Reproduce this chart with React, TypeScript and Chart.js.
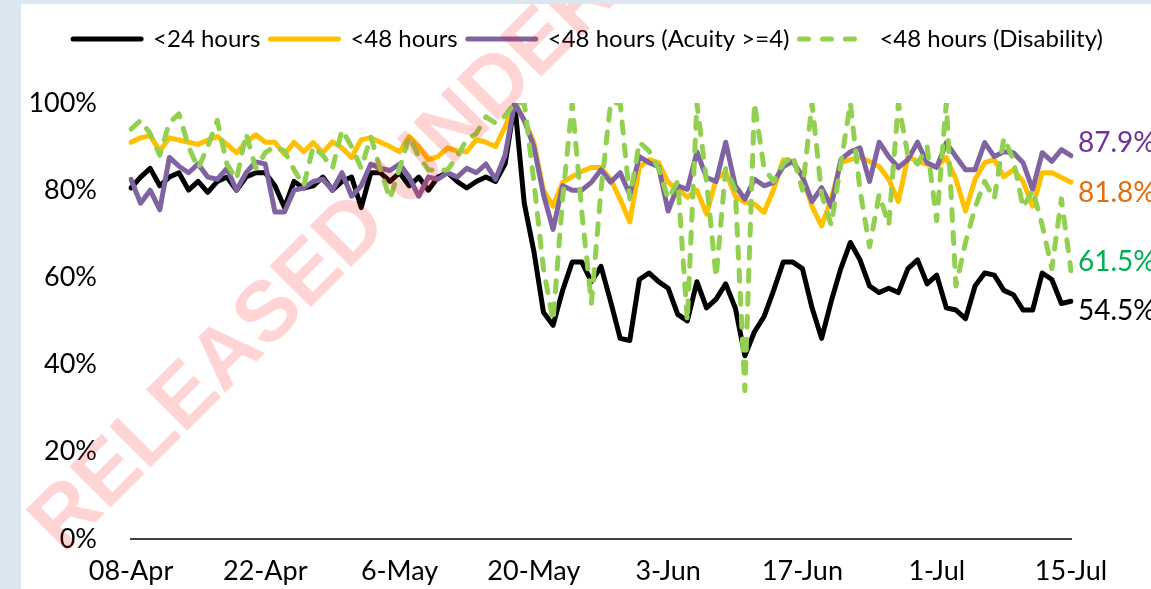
import React, { useEffect, useRef } from 'react';
import { Chart, registerables } from 'chart.js';

Chart.register(...registerables);

// ---------- data ----------
const seriesNames = ['<24 hours', '<48 hours', '<48 hours (Acuity >=4)', '<48 hours (Disability)'];
const seriesColors = ['#000000', '#FFC000', '#8064A2', '#92D050'];
const endLabelColors = ['#000000', '#E46C0A', '#7030A0', '#00B050'];
const tickLabels = ['08-Apr', '22-Apr', '6-May', '20-May', '3-Jun', '17-Jun', '1-Jul', '15-Jul'];
const yTicks = [0, 20, 40, 60, 80, 100];

const under24 = [
  80.5, 83, 85, 81, 83, 84, 80, 82, 79.5, 82, 83, 80, 83, 84, 84, 81, 76, 82, 80.5, 81,
  83, 80, 82, 83, 76, 84, 84, 82, 84, 81, 83, 80, 83, 84, 82, 80.5, 82, 83, 82, 86,
  100, 77, 66, 52, 49, 57, 63.5, 63.5, 59, 62.5, 54.5, 46, 45.5, 59.5, 61, 59, 57.5, 51.5, 50, 59,
  53, 55, 58.5, 53, 42, 47.5, 51, 57, 63.5, 63.5, 62, 53, 46, 54.5, 62, 68, 64, 58, 56.5, 57.5,
  56.5, 62, 64, 58.5, 60.5, 53, 52.5, 50.5, 58, 61, 60.5, 57, 56, 52.5, 52.5, 61, 59.5, 54, 54.5,
];

const under48 = [
  91, 92, 92.5, 89, 92, 91.5, 91, 90.5, 91.5, 92.3, 90.5, 88.6, 91, 92.7, 91, 91, 88.2, 91, 88.8, 90.9,
  88.6, 91.1, 89.7, 87.5, 91.6, 92, 91, 90, 88.8, 92.3, 90, 87, 87.7, 89.7, 89, 88.8, 91.6, 91, 90, 94.5,
  100, 96, 91, 80, 76.3, 81.8, 83.1, 84.3, 85.2, 85.2, 82.5, 77.9, 72.7, 85.2, 87, 86.3, 81.8, 80.2, 78.4, 80,
  74.5, 82.5, 84.3, 78.6, 77.2, 76.8, 74.9, 80.2, 87, 86.6, 83.1, 76.3, 71.8, 77.9, 86.3, 87, 87.5, 86.6, 85.4, 82.5,
  77.4, 87.7, 86.6, 85.9, 85.4, 87.5, 82.5, 75.2, 82.5, 86.3, 87, 83.1, 84.7, 82, 76.3, 84, 84, 82.9, 81.8,
];

const acuity = [
  82.5, 77, 80, 75.5, 87.5, 85.5, 84, 86, 83, 82.5, 85, 80, 84, 86.5, 86, 75, 75, 80, 80.5, 82,
  82.5, 80, 84, 78.6, 81, 86, 85, 84.5, 86, 83, 78.6, 83, 82.5, 84, 83, 85, 84, 86, 82.5, 88,
  100, 96, 90, 79, 71, 81, 80, 80, 81.8, 84.7, 81.8, 84, 79, 87.7, 86.3, 85.4, 75.2, 81, 80.2, 88.8,
  82.9, 82, 91, 81, 77.9, 82.5, 81, 81.8, 85.4, 86.6, 83.1, 77.4, 80.6, 76.3, 87, 88.8, 89.7, 82, 91, 87.7,
  85.2, 87, 91, 86.3, 85.2, 90.9, 87.7, 84.7, 84.7, 90.9, 87.7, 88.8, 88.6, 86.3, 80.2, 88.6, 86.6, 89.3, 87.9,
];

const disability = [
  94, 96, 93, 88, 95.5, 97.5, 90, 85, 90, 96, 86, 82.5, 93, 85, 88.6, 90, 89, 84.7, 81, 90,
  88, 85, 93.8, 90, 85, 92.3, 84.7, 78, 85, 92.3, 87.7, 84.7, 84.5, 84.7, 87.7, 91.6, 93, 96.8, 95.4, 97,
  100, 100, 82, 62, 50, 78, 100, 75, 54, 80, 100, 100, 78, 91, 89, 85, 78, 82, 50, 100,
  82, 60, 85, 80, 34, 100, 85, 82, 86, 88, 80, 100, 79, 72, 86, 100, 80, 67, 79, 72,
  100, 88, 86, 90, 73, 100, 58, 68, 76, 82, 78, 92, 87, 76, 80, 72, 62, 78, 61.5,
];

const MONTHS = ['Jan', 'Feb', 'Mar', 'Apr', 'May', 'Jun', 'Jul', 'Aug', 'Sep', 'Oct', 'Nov', 'Dec'];
const categories: string[] = under24.map((_, i) => {
  const d = new Date(Date.UTC(2020, 3, 8 + i));
  return `${d.getUTCDate()}-${MONTHS[d.getUTCMonth()]}`;
});

const seriesData = [under24, under48, acuity, disability];
const labelOffsets = [10, 11, -13, -9];

const FONT = 'Lato, "Open Sans", sans-serif';

const legendSpacing = {
  id: 'legendSpacing',
  beforeInit(chart: any) {
    const leg = chart.legend;
    if (!leg) return;
    const orig = leg.fit;
    leg.fit = function () {
      orig.call(this);
      this.height += 42;
    };
  },
};

const endLabels = {
  id: 'endLabels',
  afterDatasetsDraw(chart: any) {
    const { ctx } = chart;
    ctx.save();
    ctx.font = `28px ${FONT}`;
    ctx.textBaseline = 'middle';
    ctx.textAlign = 'left';
    chart.data.datasets.forEach((ds: any, i: number) => {
      const meta = chart.getDatasetMeta(i);
      const pt = meta.data[meta.data.length - 1];
      const v = ds.data[ds.data.length - 1];
      ctx.fillStyle = endLabelColors[i];
      ctx.fillText(`${v.toFixed(1)}%`, pt.x + 7, pt.y + labelOffsets[i]);
    });
    ctx.restore();
  },
};

const watermark = {
  id: 'watermark',
  afterDraw(chart: any) {
    const { ctx } = chart;
    ctx.save();
    ctx.translate(42, 551);
    ctx.rotate((-45 * Math.PI) / 180);
    ctx.font = 'bold 85px "Liberation Sans", Arial, sans-serif';
    ctx.fillStyle = 'rgba(255, 0, 0, 0.17)';
    ctx.textBaseline = 'alphabetic';
    ctx.textAlign = 'left';
    ctx.fillText('RELEASED UNDER', 0, 0);
    ctx.restore();
  },
};

export default function App() {
  const ref = useRef<HTMLCanvasElement | null>(null);

  useEffect(() => {
    if (!ref.current) return;
    Chart.defaults.font.family = FONT;
    const chart = new Chart(ref.current, {
      type: 'line',
      data: {
        labels: categories,
        datasets: seriesData.map((d, i) => ({
          label: seriesNames[i],
          data: d,
          yAxisID: 'y',
          borderColor: seriesColors[i],
          backgroundColor: seriesColors[i],
          borderWidth: 5,
          borderCapStyle: 'round',
          borderJoinStyle: 'round',
          borderDash: i === 3 ? [11, 12] : [],
          pointRadius: 0,
          pointHoverRadius: 0,
          tension: 0,
          fill: false,
          order: 4 - i,
        })),
      },
      options: {
        responsive: false,
        animation: false,
        layout: { padding: { top: 13, right: 0, left: 4, bottom: 0 } },
        plugins: {
          tooltip: { enabled: false },
          legend: {
            display: true,
            position: 'top',
            align: 'center',
            labels: {
              usePointStyle: true,
              pointStyleWidth: 68,
              padding: 10,
              color: '#000',
              font: { family: FONT, size: 24 },
              generateLabels: (chart: any) =>
                chart.data.datasets.map((ds: any, i: number) => ({
                  text: ds.label,
                  fillStyle: seriesColors[i],
                  strokeStyle: seriesColors[i],
                  lineWidth: 5,
                  lineCap: 'round',
                  lineDash: i === 3 ? [9, 14] : [],
                  pointStyle: 'line',
                  datasetIndex: i,
                  hidden: false,
                  fontColor: '#000',
                })),
            },
          },
        },
        scales: {
          x: {
            type: 'category',
            offset: false,
            grid: { display: false, drawTicks: false },
            border: { display: true, color: '#404040', width: 2 },
            afterFit: (s: any) => {
              s.height = 47;
            },
            ticks: {
              autoSkip: false,
              maxRotation: 0,
              minRotation: 0,
              padding: 16,
              color: '#000',
              font: { family: FONT, size: 27 },
              callback: (_v: any, idx: number) => (idx % 14 === 0 ? tickLabels[idx / 14] : null),
            },
          },
          y: {
            position: 'left',
            min: yTicks[0],
            max: yTicks[yTicks.length - 1],
            grid: { display: false, drawTicks: false },
            border: { display: false },
            afterFit: (s: any) => {
              s.width = 106;
            },
            afterBuildTicks: (s: any) => {
              s.ticks = yTicks.map((v) => ({ value: v }));
            },
            ticks: {
              padding: 34,
              color: '#000',
              font: { family: FONT, size: 27 },
              callback: (v: any) => `${v}%`,
            },
          },
          yRight: {
            type: 'linear',
            position: 'right',
            min: yTicks[0],
            max: yTicks[yTicks.length - 1],
            grid: { display: false, drawTicks: false },
            border: { display: false },
            ticks: { display: false },
            afterFit: (s: any) => {
              s.width = 80;
            },
          },
        },
      },
      plugins: [legendSpacing, endLabels, watermark],
    } as any);
    return () => chart.destroy();
  }, []);

  return (
    <div
      style={{
        position: 'fixed',
        left: 0,
        top: 0,
        width: 1151,
        height: 589,
        background: '#dce6f1',
        overflow: 'hidden',
      }}
    >
      <div style={{ position: 'absolute', left: 21, top: 4, width: 1130, height: 585, background: '#ffffff' }}>
        <canvas ref={ref} width={1130} height={585} style={{ display: 'block', width: 1130, height: 585 }} />
      </div>
    </div>
  );
}
